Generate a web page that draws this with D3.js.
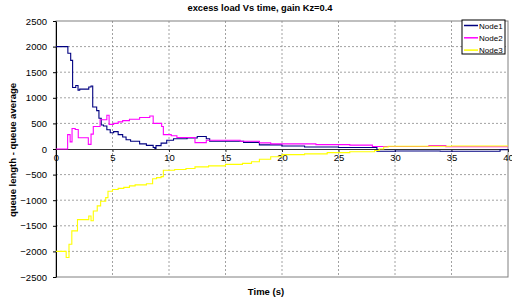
<!DOCTYPE html>
<html>
<head>
<meta charset="utf-8">
<script src="https://cdn.jsdelivr.net/npm/d3@7"></script>
<style>
  body { margin: 0; background: #fff; }
  text { font-family: "Liberation Sans", Arial, sans-serif; }
</style>
</head>
<body>
<svg id="chart" width="512" height="302"></svg>
<script>
// series (time in s, excess load)
const node1Times = [0, 1.05, 1.3, 1.47, 1.75, 1.95, 2.1, 2.9, 3.1, 3.25, 3.6, 3.8, 4.0, 4.2, 4.5, 4.8, 5.1, 5.5, 5.9, 6.2, 6.6, 7.4, 8.0, 8.6, 8.75, 8.85, 9.3, 9.8, 10.4, 11.6, 12.5, 13.3, 13.6, 16.6, 18, 20, 22, 25, 28.4, 30, 34, 39.3, 40];
const node1Values = [2000, 1870, 1730, 1200, 1240, 1150, 1170, 1210, 1230, 820, 750, 600, 470, 450, 375, 316, 340, 280, 235, 180, 150, 100, 70, 30, 10, 65, 115, 170, 200, 215, 245, 200, 150, 130, 80, 60, 40, 30, -45, -40, -45, -15, -15];

const node2Times = [0, 1.03, 1.25, 1.42, 1.7, 1.97, 2.86, 3.1, 3.3, 3.9, 4.5, 4.7, 5.1, 5.5, 5.9, 6.5, 7.4, 8.3, 8.6, 9.35, 9.5, 10.2, 10.7, 12.3, 13.3, 16.3, 18, 19, 23, 26, 28, 33, 34.5, 40];
const node2Values = [0, 280, 140, 400, 380, 220, 90, 290, 440, 570, 660, 480, 500, 530, 555, 580, 615, 645, 500, 440, 280, 260, 225, 125, 170, 150, 120, 100, 85, 75, 50, 65, 45, 45];

const node3Times = [0, 0.9, 1.15, 1.4, 1.9, 2.9, 3.1, 3.3, 3.65, 3.95, 4.4, 4.6, 5.0, 5.5, 6.0, 6.5, 7.0, 8.0, 8.55, 8.9, 9.3, 9.5, 10.5, 11.5, 12.3, 13.5, 15, 16.5, 17.3, 18, 19, 20, 22, 24, 26, 28.2, 28.6, 29, 29.4, 35, 40];
const node3Values = [-2000, -2120, -1860, -1600, -1380, -1310, -1400, -1210, -1110, -1020, -950, -825, -790, -770, -750, -720, -700, -680, -580, -560, -540, -415, -400, -380, -350, -330, -300, -280, -250, -200, -150, -110, -95, -70, -55, -30, 0, 40, 55, 60, 60];

const seriesNames = ["Node1", "Node2", "Node3"];
const seriesColors = ["#000080", "#ff00ff", "#ffff00"];
const xTicks = [0, 5, 10, 15, 20, 25, 30, 35, 40];
const yTicks = [-2500, -2000, -1500, -1000, -500, 0, 500, 1000, 1500, 2000, 2500];

const series = [
  { name: seriesNames[0], color: seriesColors[0], pts: node1Times.map((t, i) => [t, node1Values[i]]) },
  { name: seriesNames[1], color: seriesColors[1], pts: node2Times.map((t, i) => [t, node2Values[i]]) },
  { name: seriesNames[2], color: seriesColors[2], pts: node3Times.map((t, i) => [t, node3Values[i]]) }
];

const svg = d3.select('#chart');
const margin = { top: 21, bottom: 25, left: 56, right: 4 };
const width = 512, height = 302;

const x = d3.scaleLinear().domain([0, 40]).range([margin.left, width - margin.right]);
const y = d3.scaleLinear().domain([-2500, 2500]).range([height - margin.bottom, margin.top]);

// grid
const grid = svg.append('g')
  .attr('stroke', '#8a8a8a')
  .attr('stroke-width', 0.8)
  .attr('stroke-dasharray', '2,2');
grid.selectAll('line.v')
  .data(xTicks.slice(1, -1))
  .join('line')
  .attr('x1', d => x(d)).attr('x2', d => x(d))
  .attr('y1', y(2500)).attr('y2', y(-2500));
grid.selectAll('line.h')
  .data(yTicks.filter(d => d !== 0 && d !== -2500 && d !== 2500))
  .join('line')
  .attr('class', 'h')
  .attr('x1', x(0)).attr('x2', x(40))
  .attr('y1', d => y(d)).attr('y2', d => y(d));

// plot border
svg.append('rect')
  .attr('x', x(0)).attr('y', y(2500))
  .attr('width', x(40) - x(0)).attr('height', y(-2500) - y(2500))
  .attr('fill', 'none').attr('stroke', '#808080').attr('stroke-width', 1);

// x axis along zero
const gx = svg.append('g')
  .attr('transform', `translate(0,${y(0)})`)
  .call(d3.axisBottom(x).tickValues(xTicks).tickFormat(d3.format('d')).tickSize(3).tickSizeOuter(0).tickPadding(2));
gx.select('.domain').attr('stroke', '#333');
gx.selectAll('.tick line').attr('stroke', '#333');
gx.selectAll('text').attr('font-size', 9.5).attr('fill', '#000')
  .attr('font-family', '"Liberation Sans", Arial, sans-serif');

// y axis
const gy = svg.append('g')
  .attr('transform', `translate(${x(0)},0)`)
  .call(d3.axisLeft(y).tickValues(yTicks).tickFormat(d3.format('d')).tickSize(3).tickSizeOuter(0).tickPadding(6));
gy.select('.domain').attr('stroke', '#000');
gy.selectAll('text').attr('font-size', 9.5).attr('fill', '#000')
  .attr('font-family', '"Liberation Sans", Arial, sans-serif');

// lines
const line = d3.line()
  .x(d => x(d[0]))
  .y(d => y(d[1]))
  .curve(d3.curveStepAfter);

svg.append('g')
  .selectAll('path')
  .data(series)
  .join('path')
  .attr('fill', 'none')
  .attr('stroke', d => d.color)
  .attr('stroke-width', 1.1)
  .attr('d', d => line(d.pts));

// title + axis labels
svg.append('text')
  .attr('x', 260).attr('y', 11)
  .attr('text-anchor', 'middle')
  .attr('font-size', 9.3).attr('font-weight', 'bold')
  .text('excess load Vs time, gain Kz=0.4');

svg.append('text')
  .attr('x', 266).attr('y', 295)
  .attr('text-anchor', 'middle')
  .attr('font-size', 9.5).attr('font-weight', 'bold')
  .text('Time (s)');

svg.append('text')
  .attr('transform', 'translate(16,150) rotate(-90)')
  .attr('text-anchor', 'middle')
  .attr('font-size', 9.5).attr('font-weight', 'bold')
  .text('queue length - queue average');

// legend
const legend = svg.append('g').attr('transform', 'translate(462,20)');
legend.append('rect')
  .attr('width', 43).attr('height', 34)
  .attr('fill', '#fff').attr('stroke', '#000').attr('stroke-width', 1);
const item = legend.selectAll('g.item')
  .data(series)
  .join('g')
  .attr('class', 'item')
  .attr('transform', (d, i) => `translate(0,${5.5 + i * 12.3})`);
item.append('line')
  .attr('x1', 2).attr('x2', 16)
  .attr('stroke', d => d.color).attr('stroke-width', 1.5);
item.append('text')
  .attr('x', 17).attr('y', 3)
  .attr('font-size', 8)
  .text(d => d.name);
</script>
</body>
</html>
